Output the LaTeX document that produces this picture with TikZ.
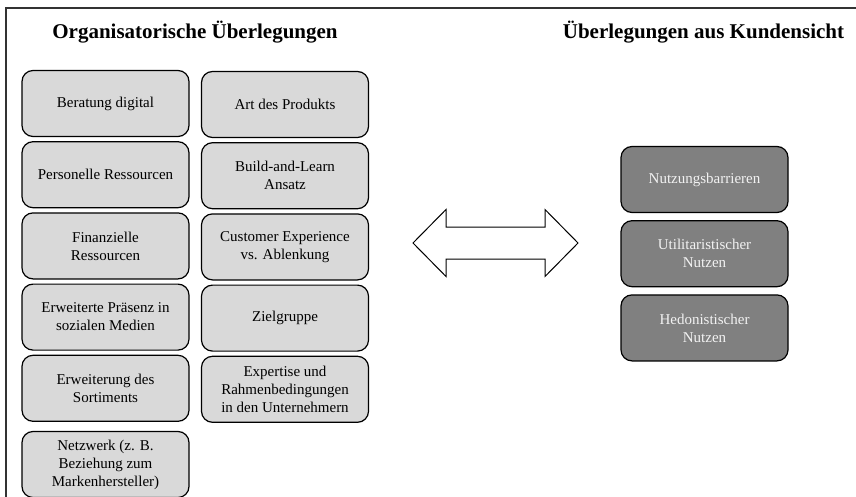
\documentclass[tikz,border=0pt]{standalone}
\usepackage{fontspec}
\setmainfont{Liberation Serif}
\usetikzlibrary{positioning}
\definecolor{ograu}{RGB}{217,217,217}
\definecolor{kgrau}{RGB}{128,128,128}
\definecolor{ktext}{RGB}{242,242,242}

\begin{document}
\begin{tikzpicture}[x=1pt,y=-1pt,node distance=4pt,
    titel/.style={font=\fontsize{21}{25}\selectfont\bfseries,anchor=base},
    orga/.style={rectangle,rounded corners=11pt,draw=black,line width=1.2pt,fill=ograu,minimum width=167pt,minimum height=66pt,align=center,inner sep=2pt,font=\fontsize{15}{18}\selectfont},
    kunde/.style={orga,fill=kgrau,text=ktext}]
    \useasboundingbox (0,0) rectangle (856,497);
    \draw[line width=1.5pt,black!80] (856,8) -- (6,8) -- (6,497);
    % Ueberschriften
    \node[titel] (orgtitel) at (195,39) {Organisatorische Überlegungen};
    \node[titel] (kundetitel) at (703.5,39) {Überlegungen aus Kundensicht};
    % linke Spalte
    \node[orga] (beratung) at (105.5,103.5) {Beratung digital};
    \node[orga,below=of beratung] (personal) {Personelle Ressourcen};
    \node[orga,below=of personal] (finanz) {Finanzielle\\Ressourcen};
    \node[orga,below=of finanz] (praesenz) {Erweiterte Präsenz in\\sozialen Medien};
    \node[orga,below=of praesenz] (sortiment) {Erweiterung des\\Sortiments};
    \node[orga,below=9pt of sortiment] (netzwerk) {Netzwerk (z. B.\\Beziehung zum\\Markenhersteller)};
    % rechte Spalte
    \node[orga] (produkt) at (285,104.5) {Art des Produkts};
    \node[orga,below=of produkt] (build) {Build-and-Learn\\Ansatz};
    \node[orga,below=of build] (experience) {Customer Experience\\vs. Ablenkung};
    \node[orga,below=of experience] (zielgruppe) {Zielgruppe};
    \node[orga,below=of zielgruppe] (expertise) {Expertise und\\Rahmenbedingungen\\in den Unternehmern};
    % Kundensicht
    \node[kunde] (barrieren) at (704.5,179.5) {Nutzungsbarrieren};
    \node[kunde,below=7pt of barrieren] (utilitar) {Utilitaristischer\\Nutzen};
    \node[kunde,below=7pt of utilitar] (hedon) {Hedonistischer\\Nutzen};
    % Doppelpfeil
    \coordinate (pfeil) at (495.5,243);
    \draw[line width=1pt,fill=white] (pfeil) ++(-82.5,0) -- ++(33,-33.5) -- ++(0,17.5) -- ++(99,0) -- ++(0,-17.5)
        -- ++(33,33.5) -- ++(-33,33.5) -- ++(0,-17.5) -- ++(-99,0) -- ++(0,17.5) -- cycle;
\end{tikzpicture}
\end{document}
